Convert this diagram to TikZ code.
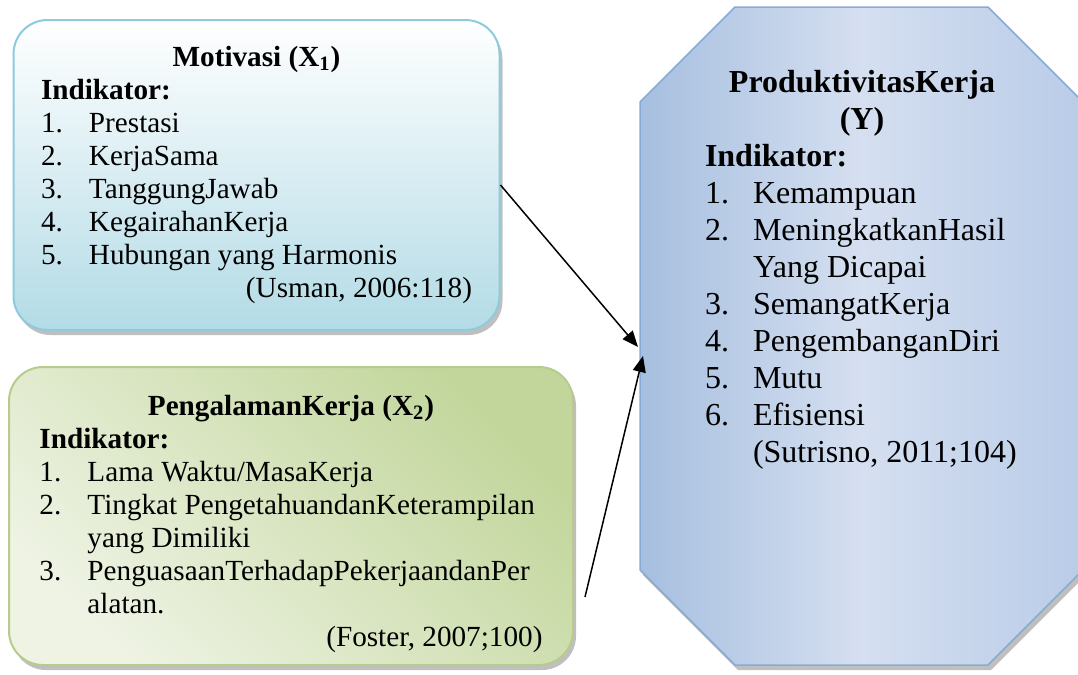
\documentclass[tikz,border=0pt]{standalone}
\usepackage{fontspec}
\setmainfont{Liberation Serif}
\usetikzlibrary{arrows.meta,shadows}

\definecolor{motiv}{HTML}{B3DBE6}
\definecolor{motivline}{HTML}{8DCBDC}
\definecolor{pengal}{HTML}{C2D69B}
\definecolor{pengallight}{HTML}{EEF3E4}
\definecolor{pengalline}{HTML}{B7CC8C}
\definecolor{prodside}{HTML}{A6BFDF}
\definecolor{prodmid}{HTML}{D5DFF0}
\definecolor{prodright}{HTML}{B9CCE8}
\definecolor{prodline}{HTML}{8AAAD6}

\newcommand{\butir}[2]{\makebox[24pt][l]{#1}#2}

\begin{document}
\begin{tikzpicture}[x=0.5pt,y=-0.5pt,
    varbox/.style={rounded corners=17pt,line width=1pt,inner sep=0pt,
      drop shadow={shadow xshift=1.5pt,shadow yshift=-2.5pt,opacity=0.5,fill=gray}},
    arr/.style={-{Triangle[length=8pt,width=6.5pt]},line width=0.75pt}]
  \useasboundingbox (0,0) rectangle (1078,675);

  % variabel X1
  \node[varbox,draw=motivline,top color=white,bottom color=motiv,
    minimum width=243pt,minimum height=155pt] (motivasi) at (256.5,175) {%
    \begin{minipage}{215.5pt}\fontsize{14.6}{16.5}\selectfont
      \centering\textbf{Motivasi (X\textsubscript{1})}\par
      \raggedright\textbf{Indikator:}\\
      \butir{1.}{Prestasi}\\
      \butir{2.}{KerjaSama}\\
      \butir{3.}{TanggungJawab}\\
      \butir{4.}{KegairahanKerja}\\
      \butir{5.}{Hubungan yang Harmonis}\\
      \hspace*{\fill}(Usman, 2006:118)
    \end{minipage}};

  % variabel X2
  \node[varbox,draw=pengalline,top color=pengal,bottom color=pengallight,
    shading angle=-45,minimum width=282pt,minimum height=149pt]
    (pengalaman) at (291,516) {%
    \begin{minipage}{251.5pt}\fontsize{14.6}{16.5}\selectfont
      \vspace*{8pt}
      \centering\textbf{PengalamanKerja (X\textsubscript{2})}\par
      \raggedright\textbf{Indikator:}\\
      \butir{1.}{Lama Waktu/MasaKerja}\\
      \butir{2.}{Tingkat PengetahuandanKeterampilan}\\
      \hspace*{24pt}yang Dimiliki\\
      \butir{3.}{PenguasaanTerhadapPekerjaandanPer}\\
      \hspace*{24pt}alatan.\\
      \hspace*{\fill}(Foster, 2007;100)
    \end{minipage}};

  % variabel Y
  \path[draw=prodline,line width=0.75pt,left color=prodside,right color=prodright,
    middle color=prodmid,
    drop shadow={shadow xshift=1.5pt,shadow yshift=-2.5pt,opacity=0.5,fill=gray}]
    (735,7) -- (988,7) -- (1083,102) -- (1083,570) -- (988,665)
    -- (735,665) -- (640,570) -- (640,102) -- cycle;
  \node[inner sep=0pt] (produktivitas) at (862,270) {%
    \begin{minipage}{157pt}\fontsize{16}{18.5}\selectfont
      \centering\textbf{ProduktivitasKerja}\\\textbf{(Y)}\par
      \raggedright\textbf{Indikator:}\\
      \butir{1.}{Kemampuan}\\
      \butir{2.}{MeningkatkanHasil}\\
      \hspace*{24pt}Yang Dicapai\\
      \butir{3.}{SemangatKerja}\\
      \butir{4.}{PengembanganDiri}\\
      \butir{5.}{Mutu}\\
      \butir{6.}{Efisiensi}\\
      \hspace*{24pt}(Sutrisno, 2011;104)
    \end{minipage}};

  \coordinate (tip1) at (638,347);
  \coordinate (tip2) at (643,356);
  \coordinate (src2) at (585,597);
  \draw[arr] ([yshift=-5pt]motivasi.east) -- (tip1);
  \draw[arr] (src2) -- (tip2);
\end{tikzpicture}
\end{document}
